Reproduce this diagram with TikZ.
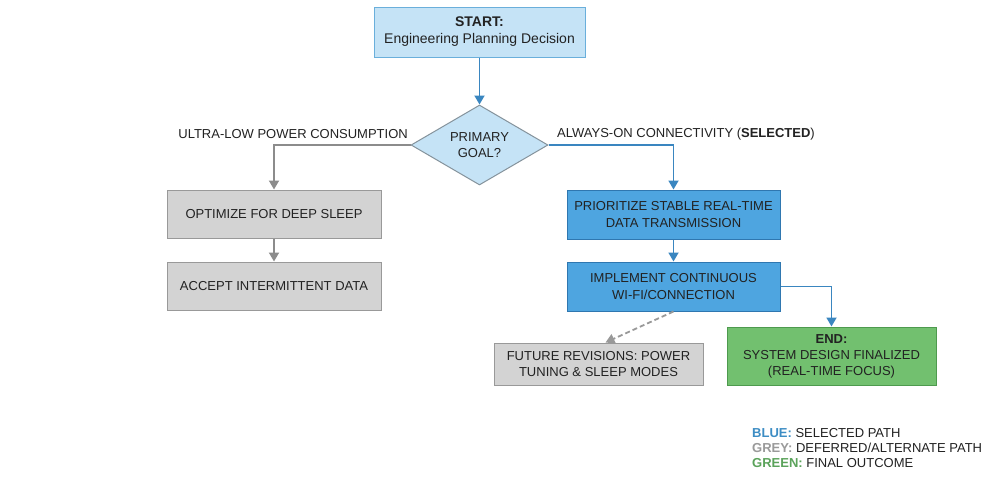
\documentclass[tikz,border=0pt]{standalone}
\usepackage{fontspec}
\setmainfont{Liberation Sans}
\usetikzlibrary{shapes.geometric,arrows.meta,calc}
\definecolor{lbfill}{HTML}{C5E3F6}
\definecolor{lbdraw}{HTML}{6AAFDB}
\definecolor{bfill}{HTML}{4EA5E0}
\definecolor{bdraw}{HTML}{2F77B0}
\definecolor{bline}{HTML}{3A86C0}
\definecolor{gfill}{HTML}{D3D3D3}
\definecolor{gdraw}{HTML}{999999}
\definecolor{gline}{HTML}{8C8C8C}
\definecolor{grfill}{HTML}{72C06F}
\definecolor{grdraw}{HTML}{4E9A4E}
\definecolor{txt}{HTML}{222222}
\definecolor{legblue}{HTML}{3D8DC4}
\definecolor{leggrey}{HTML}{9A9A9A}
\definecolor{leggreen}{HTML}{5BA35B}
\tikzset{
  box/.style={rectangle, align=center, inner sep=2pt, font=\fontsize{13}{16.5}\selectfont, text=txt, line width=1pt},
  startbox/.style={box, fill=lbfill, draw=lbdraw, minimum width=211pt, minimum height=50pt, font=\fontsize{14}{17}\selectfont},
  greybox/.style={box, fill=gfill, draw=gdraw, minimum width=214pt, minimum height=48pt},
  bluebox/.style={box, fill=bfill, draw=bdraw, minimum width=213pt, minimum height=49pt},
  greenbox/.style={box, fill=grfill, draw=grdraw, minimum width=209pt, minimum height=58pt, font=\fontsize{13}{16}\selectfont},
  decision/.style={diamond, aspect=1.71, inner sep=0pt, minimum width=137pt, minimum height=80pt, fill=lbfill, draw=gline!80!lbdraw, line width=1pt, align=center, font=\fontsize{13}{16.5}\selectfont, text=txt},
  lbl/.style={font=\fontsize{13}{15}\selectfont, text=txt, inner sep=0pt},
  tip/.style={-{Triangle[length=9pt,width=10pt]}},
  blueline/.style={tip, draw=bline, line width=1.8pt},
  greyline/.style={tip, draw=gline, line width=1.8pt},
}
\begin{document}
\begin{tikzpicture}[x=1pt,y=-1pt]
\useasboundingbox[fill=white] (0,0) rectangle (996,477);
\node[startbox] (start) at (479.5,32) {\textbf{START:}\\Engineering Planning Decision};
\node[decision] (dia) at (479.5,145) {PRIMARY\\GOAL?};
\node[greybox] (opt) at (274,214) {OPTIMIZE FOR DEEP SLEEP};
\node[greybox] (acc) at (274,286) {ACCEPT INTERMITTENT DATA};
\node[bluebox] (pri) at (673.5,214.5) {PRIORITIZE STABLE REAL-TIME\\DATA TRANSMISSION};
\node[bluebox] (imp) at (673.5,286.5) {IMPLEMENT CONTINUOUS\\WI-FI/CONNECTION};
\node[greybox, minimum width=209pt, minimum height=42pt] (fut) at (598.5,364) {FUTURE REVISIONS: POWER\\TUNING \& SLEEP MODES};
\node[greenbox] (end) at (831.5,356) {\textbf{END:}\\SYSTEM DESIGN FINALIZED\\(REAL-TIME FOCUS)};
\node[lbl, anchor=east] (llab) at (408,134) {ULTRA-LOW POWER CONSUMPTION};
\node[lbl, anchor=west] (rlab) at (557,134) {ALWAYS-ON CONNECTIVITY (\textbf{SELECTED})};
\node[lbl, anchor=north west, align=left, font=\fontsize{13}{15}\selectfont] (legend) at (752,428)
  {\textcolor{legblue}{\textbf{BLUE:}} SELECTED PATH\\
   \textcolor{leggrey}{\textbf{GREY:}} DEFERRED/ALTERNATE PATH\\
   \textcolor{leggreen}{\textbf{GREEN:}} FINAL OUTCOME};
\coordinate (futin) at ($(fut.north)+(7,0)$);
\draw[blueline] (start.south) -- (dia.north);
\draw[greyline] (dia.west) -| (opt.north);
\draw[blueline] (dia.east) -| (pri.north);
\draw[greyline] (opt.south) -- (acc.north);
\draw[blueline] (pri.south) -- (imp.north);
\draw[blueline] (imp.east) -| (end.north);
\draw[greyline, dash pattern=on 5pt off 3pt, draw=gdraw] (imp.south) -- (futin);
\end{tikzpicture}
\end{document}
